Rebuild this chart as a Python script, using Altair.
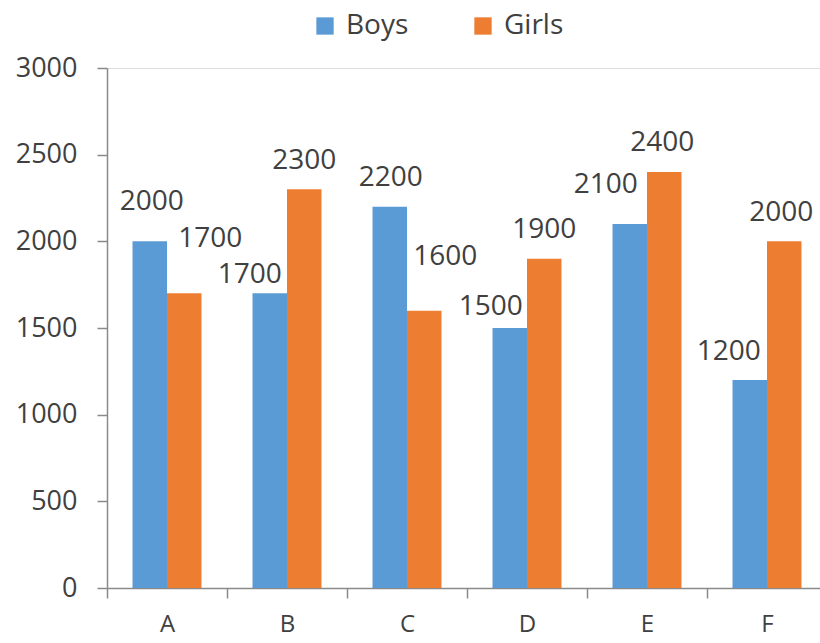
import altair as alt
import pandas as pd

# Enrolment counts per group
categories = ["A", "B", "C", "D", "E", "F"]
boys = [2000, 1700, 2200, 1500, 2100, 1200]
girls = [1700, 2300, 1600, 1900, 2400, 2000]
series = ["Boys", "Girls"]
colors = ["#5B9BD5", "#ED7D31"]
y_ticks = [0, 500, 1000, 1500, 2000, 2500, 3000]

# Hand-placed nudges (pixels) for each value label, relative to its bar top
boys_label_dx = [2, -20, 1, -19, -24, -21]
boys_label_dy = [-39, -18, -29, -21, -39, -28]
girls_label_dx = [26, 0, 21, 0, -2, -3]
girls_label_dy = [-54, -28, -54, -29, -29, -28]

rows = []
for i, c in enumerate(categories):
    rows.append({"cat": c, "series": "Boys", "value": boys[i], "key": f"{c}-Boys"})
    rows.append({"cat": c, "series": "Girls", "value": girls[i], "key": f"{c}-Girls"})
df = pd.DataFrame(rows)

FONT = "Open Sans"
TEXT = "#404040"
AXIS = "#8a8a8a"

x_enc = alt.X(
    "cat:N",
    sort=categories,
    title=None,
    scale=alt.Scale(range=[0, 720], paddingInner=0, paddingOuter=0),
    axis=alt.Axis(
        labelAngle=0,
        labelFontSize=24,
        labelColor=TEXT,
        labelFont=FONT,
        labelPadding=14,
        tickBand="extent",
        tickSize=10,
        tickColor=AXIS,
        tickWidth=1.5,
        domainColor=AXIS,
        domainWidth=1.5,
        grid=False,
    ),
)
xoff_enc = alt.XOffset(
    "series:N", sort=series, scale=alt.Scale(paddingInner=0, paddingOuter=0.74)
)
y_enc = alt.Y(
    "value:Q",
    title=None,
    scale=alt.Scale(domain=[0, 3000], nice=False),
    axis=alt.Axis(
        values=y_ticks,
        format="d",
        labelFontSize=27,
        labelColor=TEXT,
        labelFont=FONT,
        labelPadding=20,
        tickSize=10,
        tickColor=AXIS,
        tickWidth=1.5,
        domainColor=AXIS,
        domainWidth=1.5,
        grid=False,
    ),
)

base = alt.Chart(df)

bars = base.mark_bar().encode(
    x=x_enc,
    xOffset=xoff_enc,
    y=y_enc,
    color=alt.Color(
        "series:N",
        sort=series,
        scale=alt.Scale(domain=series, range=colors),
        legend=alt.Legend(
            title=None,
            orient="none",
            legendX=204,
            legendY=-56,
            direction="horizontal",
            symbolType="square",
            symbolSize=300,
            symbolStrokeWidth=0,
            labelFontSize=28,
            labelFont=FONT,
            labelColor=TEXT,
            labelOffset=7,
            columnPadding=60,
            padding=0,
        ),
    ),
)

labels = []
for i, c in enumerate(categories):
    for s, dxs, dys in (("Boys", boys_label_dx, boys_label_dy),
                        ("Girls", girls_label_dx, girls_label_dy)):
        labels.append(
            base.transform_filter(alt.datum.key == f"{c}-{s}")
            .mark_text(
                dx=dxs[i],
                dy=dys[i],
                fontSize=28,
                font=FONT,
                color=TEXT,
                baseline="middle",
                align="center",
            )
            .encode(x=x_enc, xOffset=xoff_enc, y=y_enc, text=alt.Text("value:Q"))
        )

chart = (
    alt.layer(bars, *labels)
    .properties(
        width=713,
        height=520,
        autosize=alt.AutoSizeParams(type="none"),
        padding={"left": 107, "top": 68, "right": 0, "bottom": 55},
    )
    .configure_view(stroke=None)
    .configure(background="white")
)

chart.save("out.html", embed_options={"renderer": "svg", "actions": False})
